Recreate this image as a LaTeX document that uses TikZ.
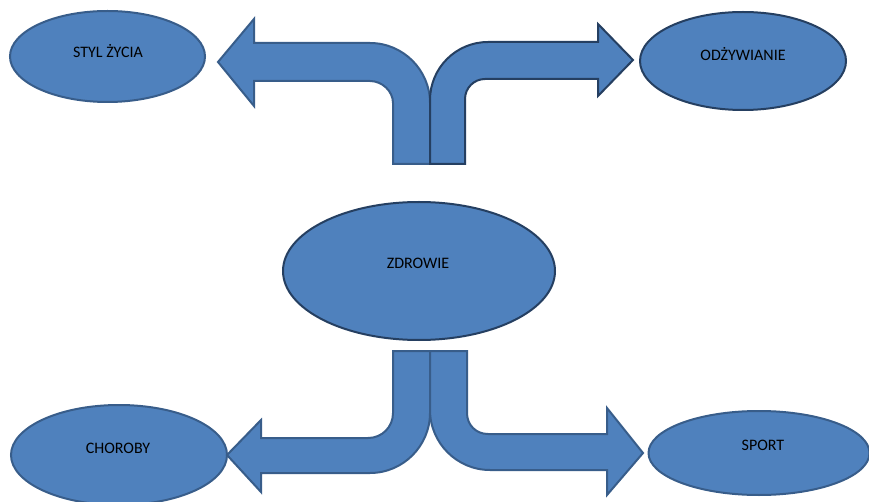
\documentclass[tikz,border=0pt]{standalone}
\usepackage{fontspec}
\setmainfont{Carlito}
\usetikzlibrary{shapes.geometric}
\definecolor{officeblue}{HTML}{4F81BD}
\definecolor{edgelight}{HTML}{385D8A}
\definecolor{edgedark}{HTML}{253F61}
\tikzset{
  bubble/.style={ellipse, fill=officeblue, draw=edgelight, line width=2pt, inner sep=0pt},
  darkbubble/.style={bubble, draw=edgedark},
  label text/.style={font=\fontsize{16}{19}\selectfont, text=black, inner sep=0pt},
  blockarrow/.style={fill=officeblue, draw=edgelight, line width=2pt, line join=miter},
  darkblockarrow/.style={blockarrow, draw=edgedark}
}
\begin{document}
\begin{tikzpicture}[x=1pt,y=-1pt]
\useasboundingbox (0,0) rectangle (869,502);
\clip (0,0) rectangle (869,502);
\fill[white] (0,0) rectangle (869,502);

% ellipses
\node[bubble, minimum width=195pt, minimum height=91pt] (styl) at (107.5,56.5) {};
\node[darkbubble, minimum width=206pt, minimum height=98pt] (odz) at (743,61) {};
\node[darkbubble, minimum width=272pt, minimum height=138pt] (zdr) at (419,271) {};
\node[bubble, minimum width=216pt, minimum height=100pt] (chor) at (119,455) {};
\node[bubble, minimum width=221pt, minimum height=84pt] (sport) at (759,453) {};

\node[label text] (tstyl) at (108,51) {STYL ŻYCIA};
\node[label text] (todz) at (743,54) {ODŻYWIANIE};
\node[label text] (tzdr) at (418,263) {ZDROWIE};
\node[label text] (tchor) at (118,448) {CHOROBY};
\node[label text] (tsport) at (763,445) {SPORT};

% top-left bent arrow
\draw[blockarrow] (393,164) -- (393,103)
  .. controls (393,91) and (382,81) .. (370,81)
  -- (254,81) -- (254,106) -- (218,62) -- (254,19) -- (254,43) -- (370,43)
  .. controls (403,43) and (430,70) .. (430,103)
  -- (430,164) -- cycle;

% top-right bent arrow
\draw[darkblockarrow] (430,164) -- (430,100)
  .. controls (430,68) and (456,42) .. (488,42)
  -- (598,42) -- (598,24) -- (633,60) -- (598,96) -- (598,79) -- (485,79)
  .. controls (474,79) and (465,88) .. (465,99)
  -- (465,164) -- cycle;

% bottom-left bent arrow
\draw[blockarrow] (393,351) -- (393,413)
  .. controls (393,427) and (382,438) .. (368,438)
  -- (261,438) -- (261,420) -- (227,455) -- (261,492) -- (261,473) -- (370,473)
  .. controls (403,473) and (430,446) .. (430,413)
  -- (430,351) -- cycle;

% bottom-right bent arrow
\draw[blockarrow] (430,351) -- (430,410)
  .. controls (430,443) and (457,470) .. (490,470)
  -- (607,470) -- (607,495) -- (643,453) -- (607,408) -- (607,434) -- (488,434)
  .. controls (476,434) and (467,425) .. (467,413)
  -- (467,351) -- cycle;
\end{tikzpicture}
\end{document}
